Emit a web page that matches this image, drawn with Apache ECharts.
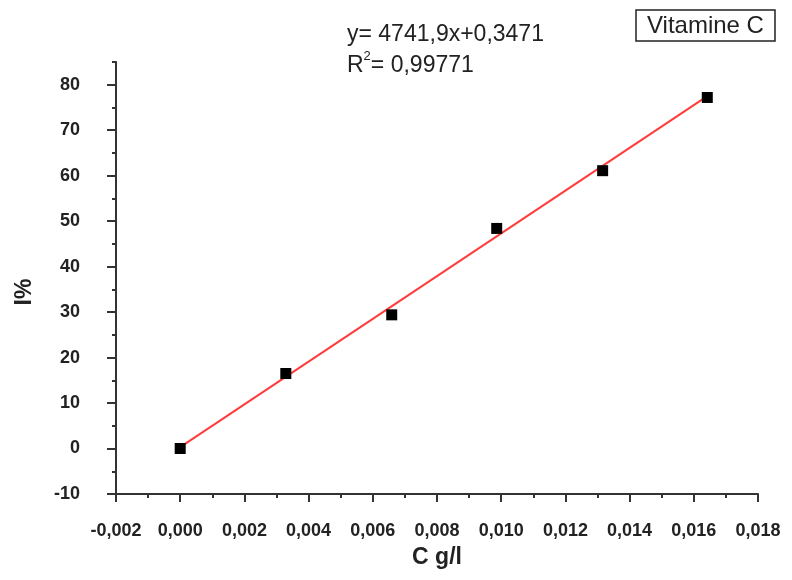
<!DOCTYPE html>
<html>
<head>
<meta charset="utf-8">
<script src="https://cdn.jsdelivr.net/npm/echarts@6/dist/echarts.min.js"></script>
<style>
  html, body { margin: 0; padding: 0; background: #fff; }
  #chart { width: 792px; height: 580px; }
</style>
</head>
<body>
<div id="chart"></div>
<script>
// measured points (C g/l, I%)
var concX = [0, 0.00329, 0.00659, 0.00986, 0.01316, 0.01642];
var inhibY = [0, 16.5, 29.4, 48.4, 61.1, 77.2];
// ends of the red fit line
var fitX = [0, 0.01642];
var fitY = [0.3, 77.5];
// y tick labels
var yTicks = [-10, 0, 10, 20, 30, 40, 50, 60, 70, 80];

var font = '"Liberation Sans", Arial, sans-serif';
var ink = '#222';

var pts = [];
for (var i = 0; i < concX.length; i++) {
  pts.push([concX[i], inhibY[i]]);
}
var fit = [];
for (var j = 0; j < fitX.length; j++) {
  fit.push([fitX[j], fitY[j]]);
}

var myChart = echarts.init(document.getElementById('chart'));
var option = {
  backgroundColor: '#fff',
  animation: false,
  title: [
    {
      text: 'Vitamine C',
      left: 636,
      top: 10,
      padding: [4, 11, 3, 11],
      borderColor: ink,
      borderWidth: 1.5,
      textStyle: { fontFamily: font, fontSize: 24, fontWeight: 'normal', color: ink }
    },
    {
      text: 'y= 4741,9x+0,3471\nR{sup|2}= 0,99771',
      left: 347,
      top: 19,
      padding: 0,
      textStyle: {
        fontFamily: font, fontSize: 23, fontWeight: 'normal', color: ink, lineHeight: 31,
        rich: {
          sup: { fontFamily: font, fontSize: 13, color: ink, verticalAlign: 'top', lineHeight: 18 }
        }
      }
    }
  ],
  graphic: [
    {
      type: 'text',
      x: 25,
      y: 292,
      rotation: Math.PI / 2,
      style: {
        text: 'I%',
        align: 'center',
        verticalAlign: 'middle',
        fontFamily: font, fontSize: 23, fontWeight: 'bold', fill: ink
      }
    }
  ],
  grid: { left: 116, right: 34, top: 62, bottom: 86, containLabel: false },
  xAxis: {
    type: 'value',
    min: -0.002,
    max: 0.018,
    interval: 0.002,
    name: 'C g/l',
    nameLocation: 'middle',
    nameGap: 52,
    nameTextStyle: { fontFamily: font, fontSize: 23, fontWeight: 'bold', color: ink },
    axisLine: { show: true, onZero: false, lineStyle: { color: '#333', width: 2 } },
    axisTick: { show: true, length: 8, lineStyle: { color: '#333', width: 2 } },
    minorTick: { show: true, splitNumber: 2, length: 4, lineStyle: { color: '#333', width: 2 } },
    splitLine: { show: false },
    axisLabel: {
      margin: 28,
      fontFamily: font, fontSize: 18, fontWeight: 'bold', color: ink,
      formatter: function (v) { return v.toFixed(3).replace('.', ','); }
    }
  },
  yAxis: [
    {
      type: 'value',
      position: 'left',
      min: -10,
      max: 85,
      interval: 5,
      axisLine: { show: true, onZero: false, lineStyle: { color: '#333', width: 2 } },
      axisTick: { show: true, length: 4, lineStyle: { color: '#333', width: 2 } },
      axisLabel: { show: false },
      splitLine: { show: false }
    },
    {
      type: 'value',
      position: 'left',
      offset: 0,
      min: -10,
      max: 85,
      interval: 10,
      axisLine: { show: false, onZero: false },
      axisTick: { show: true, length: 9, customValues: yTicks, lineStyle: { color: '#333', width: 2 } },
      axisLabel: {
        customValues: yTicks,
        margin: 36,
        fontFamily: font, fontSize: 18, fontWeight: 'bold', color: ink
      },
      splitLine: { show: false }
    }
  ],
  series: [
    {
      name: 'fit',
      type: 'line',
      yAxisIndex: 0,
      data: fit,
      showSymbol: false,
      symbol: 'none',
      lineStyle: { color: '#ff3b3b', width: 2 },
      z: 2
    },
    {
      name: 'Vitamine C',
      type: 'scatter',
      yAxisIndex: 0,
      data: pts,
      symbol: 'rect',
      symbolSize: 11,
      itemStyle: { color: '#000', opacity: 1 },
      z: 3
    }
  ]
};
myChart.setOption(option);
</script>
</body>
</html>
